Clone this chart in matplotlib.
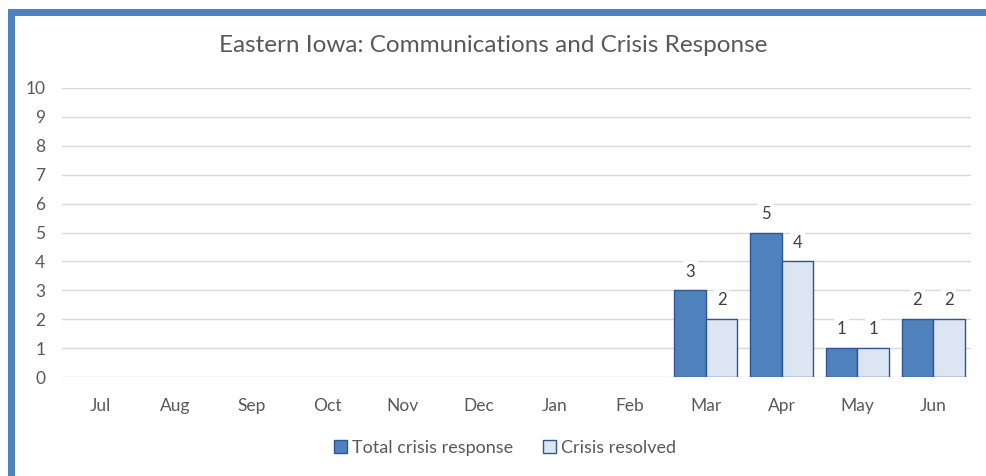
import numpy as np
import matplotlib.pyplot as plt
from matplotlib.patches import Rectangle

months = ["Jul", "Aug", "Sep", "Oct", "Nov", "Dec", "Jan", "Feb", "Mar", "Apr", "May", "Jun"]
total_response = [0, 0, 0, 0, 0, 0, 0, 0, 3, 5, 1, 2]
resolved = [0, 0, 0, 0, 0, 0, 0, 0, 2, 4, 1, 2]

dark = "#4f81bd"
light = "#dce6f2"
edge = "#2f5597"
text_c = "#595959"

plt.rcParams["font.family"] = ["Lato", "DejaVu Sans"]

fig = plt.figure(figsize=(9.87, 4.76), dpi=100)
ax = fig.add_axes([62 / 987, 1 - 377 / 476, (971 - 62) / 987, (377 - 88) / 476])

x = np.arange(len(months))
w = 0.415
for i in range(len(months)):
    if total_response[i] > 0:
        ax.bar(x[i] - w / 2, total_response[i], w, color=dark, edgecolor=edge, linewidth=1, zorder=3)
        ax.text(x[i] - w / 2, total_response[i] + 0.65, str(total_response[i]), ha="center", va="center",
                fontsize=12, color="#404040", zorder=4,
                bbox=dict(facecolor="white", edgecolor="none", pad=2))
    if resolved[i] > 0:
        ax.bar(x[i] + w / 2, resolved[i], w, color=light, edgecolor=edge, linewidth=1, zorder=3)
        ax.text(x[i] + w / 2, resolved[i] + 0.65, str(resolved[i]), ha="center", va="center",
                fontsize=12, color="#404040", zorder=4,
                bbox=dict(facecolor="white", edgecolor="none", pad=2))

ax.set_xlim(-0.5, len(months) - 0.5)
ax.set_ylim(0, 10)
ax.set_yticks(range(0, 11))
ax.set_xticks(x)
ax.set_xticklabels(months)
ax.grid(axis="y", color="#d9d9d9", linewidth=1, zorder=0)
ax.set_axisbelow(True)
for s in ax.spines.values():
    s.set_visible(False)
ax.tick_params(length=0, labelsize=12.5, colors=text_c)
ax.tick_params(axis="x", pad=15)
ax.tick_params(axis="y", pad=12)

fig.text(0.5, 1 - 46 / 476, "Eastern Iowa: Communications and Crisis Response", ha="center", va="center",
         fontsize=17.5, color=text_c)

handles = [Rectangle((0, 0), 1, 1, facecolor=dark, edgecolor=edge),
           Rectangle((0, 0), 1, 1, facecolor=light, edgecolor=edge)]
fig.legend(handles, ["Total crisis response", "Crisis resolved"], loc="center",
           bbox_to_anchor=(505 / 987, 1 - 448 / 476), ncol=2, frameon=False, fontsize=13,
           handlelength=0.75, handleheight=0.75, handletextpad=0.3, columnspacing=1.6,
           labelcolor=text_c)

# frame edges visible in the screenshot
fig.add_artist(Rectangle((8 / 987, 0), 7 / 987, 1 - 9 / 476, transform=fig.transFigure,
                         facecolor=dark, edgecolor="none"))
fig.add_artist(Rectangle((8 / 987, 1 - 16 / 476), 1, 7 / 476, transform=fig.transFigure,
                         facecolor=dark, edgecolor="none"))

fig.savefig("out.png", dpi=100)
